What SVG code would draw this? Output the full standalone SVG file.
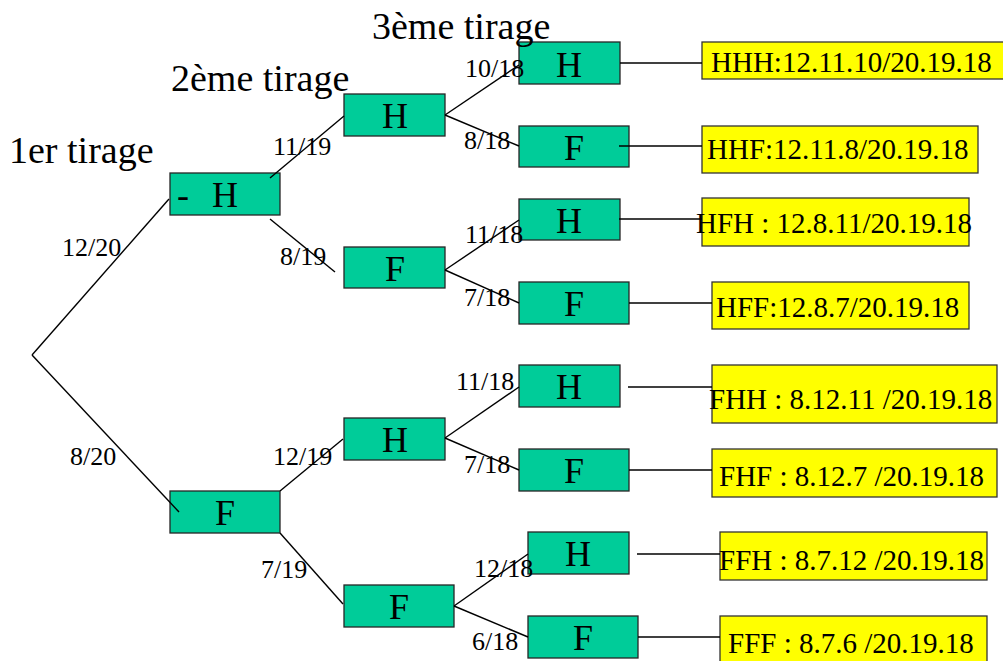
<svg xmlns="http://www.w3.org/2000/svg" width="1003" height="661" viewBox="0 0 1003 661">
<style>
.n{fill:#00CC99;stroke:#262626;stroke-width:1.3}
.y{fill:#FFFF00;stroke:#333;stroke-width:1.3}
.nt{font-family:"Liberation Serif","Times New Roman",serif;font-size:36px;fill:#000;text-anchor:middle}
.yt{font-family:"Liberation Serif","Times New Roman",serif;font-size:29px;fill:#000}
.el{font-family:"Liberation Serif","Times New Roman",serif;font-size:26px;fill:#000}
.ti{font-family:"Liberation Serif","Times New Roman",serif;font-size:38px;fill:#000}
.c line{stroke:#000;stroke-width:1.4}
</style>
<rect width="1003" height="661" fill="#fff"/>
<g id="n-H1"><rect class="n" x="170" y="173" width="110" height="42"/><text class="nt" y="207"><tspan x="183">-</tspan><tspan x="225">H</tspan></text></g>
<g id="n-F1"><rect class="n" x="170" y="491" width="110" height="42"/><text class="nt" x="225" y="525">F</text></g>
<g id="n-HH"><rect class="n" x="344" y="94" width="101" height="42"/><text class="nt" x="395" y="128">H</text></g>
<g id="n-HF"><rect class="n" x="344" y="247" width="101" height="41"/><text class="nt" x="395" y="281">F</text></g>
<g id="n-FH"><rect class="n" x="344" y="418" width="101" height="42"/><text class="nt" x="395" y="452">H</text></g>
<g id="n-FF"><rect class="n" x="344" y="585" width="110" height="42"/><text class="nt" x="399" y="619">F</text></g>
<g id="n-HHH"><rect class="n" x="519" y="42" width="101" height="42"/><text class="nt" x="569" y="77">H</text></g>
<g id="n-HHF"><rect class="n" x="519" y="126" width="110" height="41"/><text class="nt" x="574" y="160">F</text></g>
<g id="n-HFH"><rect class="n" x="519" y="199" width="101" height="41"/><text class="nt" x="569" y="233">H</text></g>
<g id="n-HFF"><rect class="n" x="519" y="282" width="110" height="42"/><text class="nt" x="574" y="316">F</text></g>
<g id="n-FHH"><rect class="n" x="519" y="365" width="101" height="42"/><text class="nt" x="569" y="399">H</text></g>
<g id="n-FHF"><rect class="n" x="519" y="449" width="110" height="42"/><text class="nt" x="574" y="483">F</text></g>
<g id="n-FFH"><rect class="n" x="528" y="532" width="101" height="42"/><text class="nt" x="578" y="566">H</text></g>
<g id="n-FFF"><rect class="n" x="528" y="616" width="110" height="42"/><text class="nt" x="583" y="650">F</text></g>
<g id="r-HHH"><rect class="y" x="702" y="42" width="305" height="37"/><text class="yt" x="711" y="72">HHH:12.11.10/20.19.18</text></g>
<g id="r-HHF"><rect class="y" x="702" y="126" width="276" height="47"/><text class="yt" x="707" y="159">HHF:12.11.8/20.19.18</text></g>
<g id="r-HFH"><rect class="y" x="702" y="198" width="267" height="48"/><text class="yt" x="696" y="233">HFH : 12.8.11/20.19.18</text></g>
<g id="r-HFF"><rect class="y" x="712" y="282" width="257" height="47"/><text class="yt" x="716" y="317">HFF:12.8.7/20.19.18</text></g>
<g id="r-FHH"><rect class="y" x="712" y="365" width="285" height="58"/><text class="yt" x="709" y="409">FHH : 8.12.11 /20.19.18</text></g>
<g id="r-FHF"><rect class="y" x="712" y="449" width="285" height="48"/><text class="yt" x="719" y="486">FHF : 8.12.7 /20.19.18</text></g>
<g id="r-FFH"><rect class="y" x="720" y="532" width="267" height="48"/><text class="yt" x="719" y="570">FFH : 8.7.12 /20.19.18</text></g>
<g id="r-FFF"><rect class="y" x="720" y="616" width="267" height="50"/><text class="yt" x="728" y="653">FFF : 8.7.6 /20.19.18</text></g>
<g id="titles">
<text class="ti" x="9" y="163">1er tirage</text>
<text class="ti" x="171" y="91">2ème tirage</text>
<text class="ti" x="372" y="39">3ème tirage</text>
</g>
<g id="connectors" class="c">
<line x1="32" y1="355" x2="169" y2="199"/>
<line x1="32" y1="355" x2="179" y2="512"/>
<line x1="270" y1="178" x2="344" y2="116"/>
<line x1="270" y1="219" x2="335" y2="272"/>
<line x1="280" y1="491" x2="343" y2="439"/>
<line x1="280" y1="533" x2="343" y2="604"/>
<line x1="445" y1="115" x2="519" y2="65"/>
<line x1="445" y1="115" x2="519" y2="146"/>
<line x1="445" y1="270" x2="519" y2="220"/>
<line x1="445" y1="270" x2="519" y2="303"/>
<line x1="445" y1="438" x2="519" y2="387"/>
<line x1="445" y1="438" x2="519" y2="470"/>
<line x1="454" y1="606" x2="528" y2="554"/>
<line x1="454" y1="606" x2="528" y2="637"/>
<line x1="620" y1="63" x2="702" y2="63"/>
<line x1="619" y1="146" x2="702" y2="146"/>
<line x1="619" y1="219" x2="702" y2="219"/>
<line x1="629" y1="303" x2="712" y2="303"/>
<line x1="628" y1="387" x2="712" y2="387"/>
<line x1="629" y1="470" x2="712" y2="470"/>
<line x1="637" y1="554" x2="720" y2="554"/>
<line x1="638" y1="637" x2="720" y2="637"/>
<text class="el" x="62" y="256">12/20</text>
<text class="el" x="70" y="465">8/20</text>
<text class="el" x="273" y="155">11/19</text>
<text class="el" x="280" y="265">8/19</text>
<text class="el" x="273" y="465">12/19</text>
<text class="el" x="261" y="578">7/19</text>
<text class="el" x="465" y="77">10/18</text>
<text class="el" x="464" y="149">8/18</text>
<text class="el" x="465" y="243">11/18</text>
<text class="el" x="464" y="306">7/18</text>
<text class="el" x="456" y="390">11/18</text>
<text class="el" x="464" y="473">7/18</text>
<text class="el" x="474" y="577">12/18</text>
<text class="el" x="472" y="650">6/18</text>
</g>
</svg>
